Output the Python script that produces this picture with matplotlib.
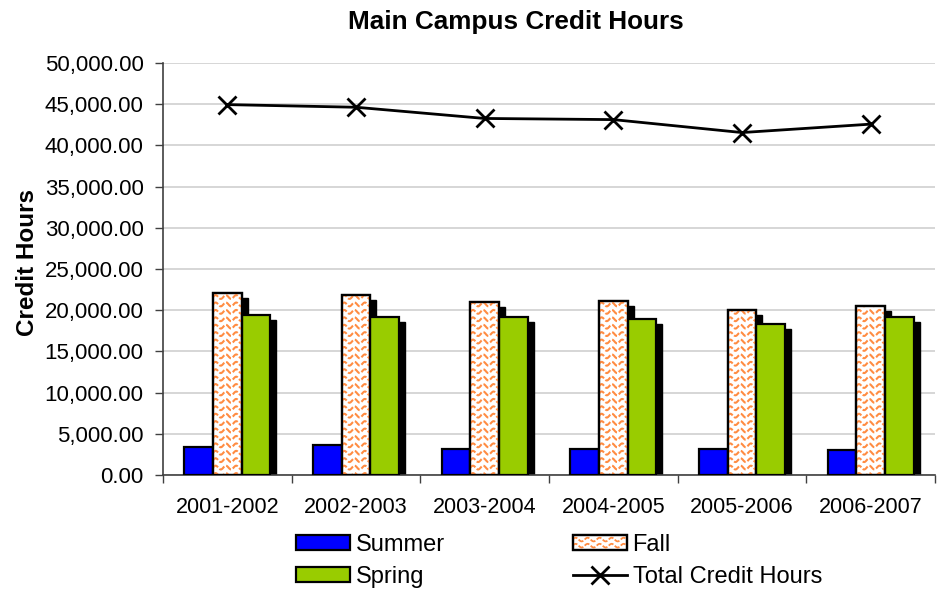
import numpy as np
import matplotlib
matplotlib.use("Agg")
import matplotlib.pyplot as plt
from matplotlib.patches import Rectangle
from matplotlib.lines import Line2D
from matplotlib.legend_handler import HandlerBase
import matplotlib.transforms as mtransforms
from matplotlib.ticker import FuncFormatter, FixedLocator

plt.rcParams['font.family'] = ['Liberation Sans', 'DejaVu Sans']

years = ["2001-2002", "2002-2003", "2003-2004", "2004-2005", "2005-2006", "2006-2007"]
summer = [3400, 3700, 3200, 3100, 3200, 3000]
fall = [22100, 21800, 20940, 21150, 19980, 20450]
spring = [19450, 19130, 19130, 18880, 18380, 19130]
total = [44950, 44630, 43270, 43130, 41560, 42580]

BLUE = '#0000FF'
GREEN = '#99CC00'
ORANGE = '#FF8C42'

fig = plt.figure(figsize=(9.48, 5.92), dpi=100)
ax = fig.add_axes([163/948, 1-475/592, (935-163)/948, (475-63)/592])

x = np.arange(len(years))
w = 0.222
shadow_tr = ax.transData + mtransforms.ScaledTranslation(6/100, -5/100, fig.dpi_scale_trans)

series = [(summer, -w, BLUE), (fall, 0, 'white'), (spring, w, GREEN)]
for vals, off, col in series:
    ax.bar(x + off, vals, w, color='black', edgecolor='black', transform=shadow_tr, zorder=2)
for vals, off, col in series:
    bars = ax.bar(x + off, vals, w, color=col, edgecolor='black', linewidth=1.6, zorder=3)
    if col == 'white':
        # wave pattern fill for Fall bars
        for b in bars:
            xs = np.linspace(b.get_x(), b.get_x() + b.get_width(), 80)
            for yb in np.arange(0, b.get_height() + 1000, 900):
                ys = yb + 230 * np.sin((xs - b.get_x()) / 0.08 * 2 * np.pi)
                ln, = ax.plot(xs, ys, color=ORANGE, lw=1.5, zorder=3.5, dashes=(3, 1))
                ln.set_clip_path(b)
        for b in bars:
            r = Rectangle((b.get_x(), 0), b.get_width(), b.get_height(), fill=False,
                          edgecolor='black', linewidth=1.6, zorder=3.6)
            ax.add_patch(r)

ax.plot(x, total, color='black', lw=2, marker='x', markersize=13, mew=2, zorder=5)

ax.set_xlim(-0.5, len(years) - 0.5)
ax.set_ylim(0, 50000)
ax.set_yticks(np.arange(0, 50001, 5000))
ax.yaxis.set_major_formatter(FuncFormatter(lambda v, p: f"{v:,.2f}"))
ax.set_xticks(x)
ax.set_xticklabels(years)
ax.xaxis.set_minor_locator(FixedLocator(np.arange(-0.5, len(years), 1.0)))
ax.tick_params(axis='x', which='major', length=0, pad=16, labelsize=15.5)
ax.tick_params(axis='x', which='minor', length=6, color='#404040', width=1)
ax.tick_params(axis='y', length=6, color='#404040', width=1, labelsize=16, pad=8)
ax.grid(axis='y', color='#d0d0d0', lw=1.2, zorder=0)
ax.set_axisbelow(True)
for s in ['top', 'right']:
    ax.spines[s].set_visible(False)
for s in ['left', 'bottom']:
    ax.spines[s].set_color('#404040')
    ax.spines[s].set_linewidth(1.2)

fig.text(516/948, 1-22/592, "Main Campus Credit Hours", ha='center', va='center',
         fontsize=18.8, fontweight='bold')
fig.text(28/948, 1-262/592, "Credit Hours", ha='center', va='center', rotation=90,
         fontsize=17.5, fontweight='bold')


class WaveHandler(HandlerBase):
    def create_artists(self, legend, orig_handle, xdescent, ydescent, width, height, fontsize, trans):
        r = Rectangle((-xdescent, -ydescent), width, height, facecolor='white',
                      edgecolor='black', lw=1.6, transform=trans)
        arts = [r]
        xs = np.linspace(-xdescent, -xdescent + width, 100)
        for fy in [0.3, 0.7]:
            ys = -ydescent + height * fy + height * 0.12 * np.sin((xs + xdescent) / (width / 4.5) * 2 * np.pi)
            l = Line2D(xs, ys, color=ORANGE, lw=1.3, transform=trans, dashes=(3, 1))
            l.set_clip_path(r)
            arts.append(l)
        arts.append(Rectangle((-xdescent, -ydescent), width, height, fill=False,
                              edgecolor='black', lw=1.6, transform=trans))
        return arts


h_summer = Rectangle((0, 0), 1, 1, facecolor=BLUE, edgecolor='black', lw=1.6)
h_spring = Rectangle((0, 0), 1, 1, facecolor=GREEN, edgecolor='black', lw=1.6)
h_fall = Rectangle((0, 0), 1, 1, facecolor='white', edgecolor='black', lw=1.6)
h_total = Line2D([], [], color='black', lw=2, marker='x', markersize=13, mew=2)

leg = fig.legend([h_summer, h_spring, h_fall, h_total],
                 ["Summer", "Spring", "Fall", "Total Credit Hours"],
                 ncol=2, loc='center', bbox_to_anchor=(559/948, 1-561/592),
                 frameon=False, fontsize=17, handlelength=2.29, handleheight=0.62,
                 handletextpad=0.25, columnspacing=5.4, labelspacing=0.43,
                 handler_map={h_fall: WaveHandler()})

fig.savefig("out.png", dpi=100)
